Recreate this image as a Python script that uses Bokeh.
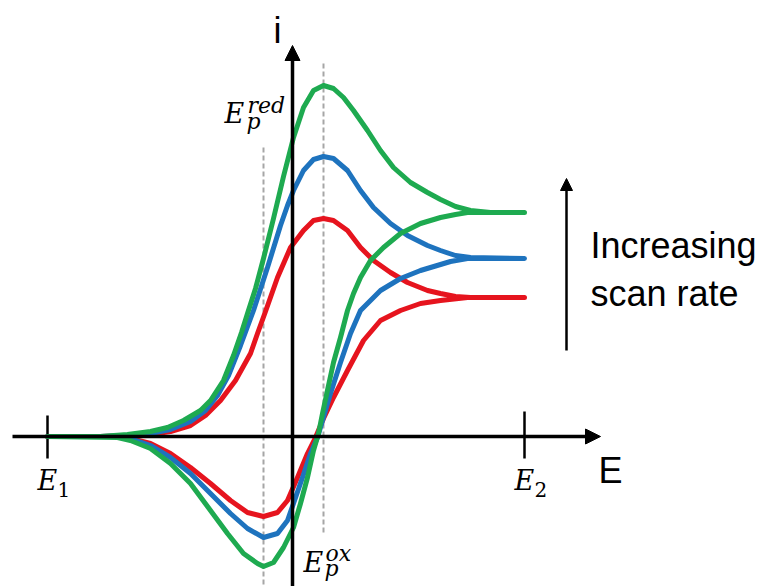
from bokeh.plotting import figure
from bokeh.models import Range1d, Arrow, NormalHead, Label
from bokeh.embed import file_html
from bokeh.resources import INLINE

# ---- data (E, i in arbitrary units; origin at axis crossing) ----
E1 = -245
E2 = 232
Ep_red = 31      # upper peak potential
Ep_ox = -29      # lower peak potential

# forward branch + return branch for each scan rate
red_E = [-245, -192, -162, -142, -122, -102, -87, -72, -57, -42, -35, -27, -15, -2, 11, 21, 31, 41, 55, 68, 81, 98, 115, 135, 148, 163, 178, 232,
         175, 148, 128, 108, 88, 71, 55, 41, 31, 23, 15, 5, -5, -15, -29, -45, -62, -82, -102, -122, -142, -162, -175, -245]
red_i = [0, 0, 1, 2, 5, 11, 21, 36, 56, 83, 103, 125, 159, 189, 206, 216, 218, 216, 206, 189, 176, 164, 154, 146, 143, 140, 139, 139,
         139, 136, 133, 126, 116, 96, 66, 39, 18, -1, -17, -41, -64, -76, -80, -76, -64, -47, -31, -17, -7, -2, 0, 0]

blue_E = [-245, -192, -162, -142, -122, -102, -87, -75, -64, -52, -39, -25, -12, -5, 1, 11, 21, 31, 41, 55, 68, 81, 98, 115, 135, 148, 163, 178, 232,
          175, 158, 148, 128, 108, 88, 75, 68, 58, 48, 38, 30, 25, 18, 10, 1, -5, -15, -29, -45, -62, -82, -102, -122, -142, -162, -175, -245]
blue_i = [0, 0, 1, 3, 7, 15, 26, 41, 61, 91, 126, 169, 211, 231, 246, 266, 277, 280, 278, 266, 246, 229, 213, 201, 191, 186, 181, 179, 178,
          178, 175, 172, 166, 158, 146, 133, 126, 103, 74, 43, 16, -1, -17, -41, -67, -84, -97, -101, -92, -77, -57, -37, -21, -9, -2, 0, 0]

green_E = [-245, -192, -165, -142, -125, -109, -92, -82, -69, -59, -51, -45, -37, -29, -19, -9, 1, 11, 21, 31, 41, 51, 61, 75, 88, 101, 118, 135, 148, 163, 178, 198, 232,
           175, 163, 148, 128, 108, 91, 78, 68, 61, 55, 48, 41, 36, 30, 26, 21, 15, 8, 1, -9, -19, -29, -35, -49, -65, -82, -102, -122, -142, -162, -175, -245]
green_i = [0, 0, 2, 5, 9, 16, 26, 36, 56, 81, 104, 123, 148, 178, 218, 260, 299, 329, 346, 351, 348, 339, 326, 306, 286, 269, 254, 244, 237, 230, 226, 224, 224,
           224, 222, 219, 213, 203, 189, 176, 159, 143, 126, 99, 74, 51, 23, 3, -14, -41, -67, -91, -111, -126, -130, -127, -117, -97, -74, -47, -27, -12, -4, -1, 0]

tick_E = [E1, E2]
tick_labels = ["1", "2"]

GREEN = "#1EAA50"
BLUE = "#1E73BE"
RED = "#E6141E"

p = figure(width=763, height=586, x_range=Range1d(-292, 471), y_range=Range1d(-150, 436),
           min_border=0, toolbar_location=None, output_backend="svg",
           x_axis_type=None, y_axis_type=None)
p.grid.visible = False
p.outline_line_color = None
p.background_fill_color = "white"
p.border_fill_color = "white"

# dashed peak lines
p.segment(x0=[Ep_ox], y0=[289], x1=[Ep_ox], y1=[-150], line_color="#A6A6A6", line_width=2, line_dash="5 3")
p.segment(x0=[Ep_red], y0=[373], x1=[Ep_red], y1=[-96], line_color="#A6A6A6", line_width=2, line_dash="5 3")

# axes
p.add_layout(Arrow(x_start=-280, y_start=0, x_end=308, y_end=0, line_width=3.5, line_color="black",
                   end=NormalHead(size=15, fill_color="black", line_color="black", line_width=1)))
p.add_layout(Arrow(x_start=0, y_start=-150, x_end=0, y_end=391, line_width=3.5, line_color="black",
                   end=NormalHead(size=15, fill_color="black", line_color="black", line_width=1)))
p.segment(x0=tick_E, y0=[21, 25], x1=tick_E, y1=[-22, -22], line_color="black", line_width=2.5)

# curves
for xs, ys, c in [(red_E, red_i, RED), (blue_E, blue_i, BLUE), (green_E, green_i, GREEN)]:
    p.line(xs, ys, line_color=c, line_width=5, line_join="round", line_cap="round")

# scan-rate arrow
p.add_layout(Arrow(x_start=274, y_start=86, x_end=274, y_end=258, line_width=2.5, line_color="black",
                   end=NormalHead(size=12, fill_color="black", line_color="black", line_width=1)))

SANS = "Liberation Sans"
SERIF = "DejaVu Serif"

def lab(x, y, t, size, font=SANS, style="normal"):
    p.add_layout(Label(x=x, y=y, text=t, text_font=font, text_font_size=size, text_font_style=style,
                       text_color="black", text_baseline="alphabetic", text_align="left"))

lab(-19, 406, "i", "36px")
lab(306, -34, "E", "36px")
lab(298, 191, "Increasing", "36px")
lab(298, 143, "scan rate", "36px")

# E1, E2
for xv, s in zip(tick_E, tick_labels):
    lab(xv - 10, -44, "E", "27px", SERIF, "italic")
    lab(xv + 10, -53, s, "20px", SERIF, "normal")

# E_p^red
lab(Ep_red - 99, 323, "E", "27px", SERIF, "italic")
lab(Ep_red - 77, 315, "p", "22px", SERIF, "italic")
lab(Ep_red - 76, 331, "red", "22px", SERIF, "italic")
# E_p^ox
lab(Ep_ox + 40, -126, "E", "27px", SERIF, "italic")
lab(Ep_ox + 61, -132, "p", "22px", SERIF, "italic")
lab(Ep_ox + 62, -117, "ox", "22px", SERIF, "italic")

open("out.html", "w").write(file_html(p, INLINE))
